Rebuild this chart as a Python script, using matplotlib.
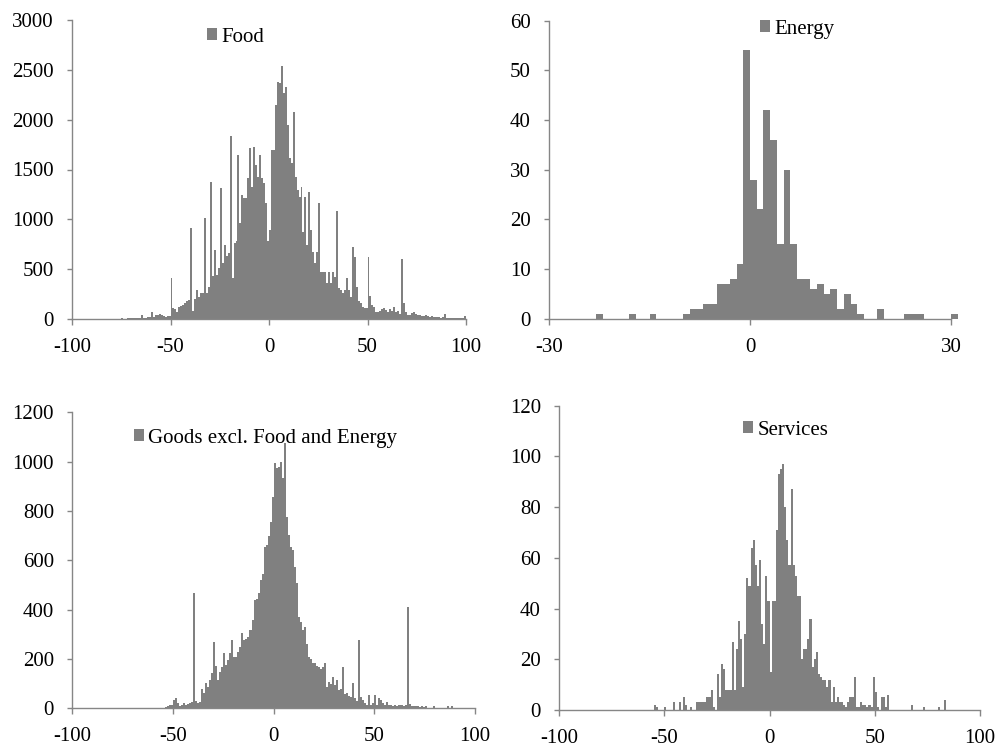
import matplotlib
matplotlib.use('Agg')
import matplotlib.pyplot as plt
from matplotlib.patches import Patch

plt.rcParams['font.family'] = ['Liberation Serif', 'DejaVu Serif']
plt.rcParams['axes.unicode_minus'] = False

# ---------------- data ----------------
food_bins = list(range(-100, 100))
food_counts = [
    0, 0, 0, 2, 0, 0, 0, 0, 3, 0,
    0, 2, 0, 0, 3, 0, 2, 0, 0, 3,
    2, 4, 3, 5, 3, 6, 4, 5, 8, 6,
    8, 10, 7, 12, 9, 45, 15, 12, 22, 18,
    75, 25, 45, 38, 55, 40, 30, 25, 35, 30,
    408, 107, 97, 74, 124, 130, 140, 164, 184, 190,
    916, 80, 197, 291, 217, 257, 264, 1010, 264, 324,
    1371, 435, 692, 441, 508, 1317, 558, 742, 632, 665,
    1839, 408, 766, 786, 1645, 959, 1244, 1210, 1210, 1411,
    1712, 1327, 1728, 1544, 1427, 1645, 1411, 1361, 1160, 782,
    893, 1695, 1695, 2146, 2380, 2363, 2537, 2263, 2330, 1945,
    1611, 1561, 2079, 1427, 1294, 1227, 1327, 876, 1227, 742,
    1277, 893, 675, 558, 675, 1160, 475, 475, 475, 364,
    475, 358, 475, 418, 1083, 308, 291, 257, 291, 408,
    291, 224, 725, 625, 324, 184, 157, 124, 107, 107,
    625, 231, 140, 124, 74, 74, 84, 97, 107, 90,
    75, 100, 85, 120, 70, 80, 55, 600, 160, 70,
    45, 40, 60, 70, 50, 45, 40, 35, 30, 40,
    30, 25, 30, 20, 25, 20, 20, 15, 20, 50,
    15, 15, 10, 15, 10, 15, 10, 10, 15, 30,
]

energy_bins = list(range(-30, 31))
energy_counts = [
    0, 0, 0, 0, 0, 0, 0, 1, 0, 0,
    0, 0, 1, 0, 0, 1, 0, 0, 0, 0,
    1, 2, 2, 3, 3, 7, 7, 8, 11, 54,
    28, 22, 42, 36, 15, 30, 15, 8, 8, 6,
    7, 5, 6, 2, 5, 3, 1, 0, 0, 2,
    0, 0, 0, 1, 1, 1, 0, 0, 0, 0,
    1,
]

goods_bins = list(range(-100, 100))
goods_counts = [
    0, 0, 0, 0, 0, 0, 0, 0, 0, 0,
    0, 0, 0, 0, 0, 0, 0, 0, 0, 0,
    0, 0, 0, 0, 0, 0, 0, 0, 3, 0,
    0, 0, 0, 0, 0, 0, 0, 0, 0, 0,
    0, 0, 0, 0, 0, 2, 4, 10, 14, 12,
    34, 43, 20, 9, 14, 20, 14, 18, 23, 27,
    466, 30, 23, 27, 77, 61, 101, 88, 115, 142,
    270, 172, 115, 149, 169, 223, 176, 196, 223, 277,
    209, 209, 230, 250, 304, 277, 280, 290, 317, 358,
    439, 443, 466, 520, 545, 652, 662, 700, 757, 858,
    993, 975, 980, 1000, 932, 1074, 777, 703, 655, 642,
    574, 507, 372, 351, 317, 331, 260, 209, 200, 185,
    182, 170, 169, 160, 169, 182, 88, 108, 100, 128,
    95, 115, 74, 80, 169, 60, 61, 50, 45, 101,
    40, 30, 277, 47, 34, 23, 14, 54, 13, 20,
    54, 14, 40, 34, 23, 14, 27, 14, 12, 10,
    14, 8, 12, 14, 10, 12, 412, 16, 9, 8,
    9, 10, 6, 8, 4, 9, 3, 2, 3, 9,
    2, 0, 1, 0, 0, 2, 9, 3, 8, 0,
    0, 0, 0, 0, 0, 0, 0, 0, 0, 0,
]

services_bins = list(range(-100, 100))
services_counts = [
    0, 0, 0, 0, 0, 0, 0, 0, 0, 0,
    0, 0, 0, 0, 0, 0, 0, 0, 0, 0,
    0, 0, 0, 0, 0, 0, 0, 0, 0, 0,
    0, 0, 0, 0, 0, 0, 0, 0, 0, 0,
    0, 0, 0, 0, 0, 2, 1, 0, 0, 0,
    1, 0, 0, 0, 3, 0, 0, 3, 0, 5,
    2, 0, 1, 0, 0, 3, 3, 3, 3, 3,
    5, 5, 8, 1, 0, 14, 5, 18, 16, 8,
    8, 8, 27, 8, 24, 35, 28, 9, 30, 52,
    49, 64, 67, 57, 49, 59, 34, 26, 53, 43,
    15, 43, 43, 71, 93, 95, 97, 80, 67, 57,
    87, 57, 53, 45, 45, 20, 24, 24, 28, 36,
    17, 20, 23, 14, 13, 12, 12, 9, 12, 3,
    9, 3, 5, 3, 3, 2, 1, 3, 5, 5,
    13, 1, 1, 3, 2, 2, 1, 2, 1, 13,
    7, 1, 0, 5, 5, 1, 6, 0, 0, 0,
    0, 0, 0, 0, 0, 0, 0, 2, 0, 0,
    0, 0, 0, 1, 0, 0, 0, 0, 0, 0,
    1, 0, 0, 4, 0, 0, 0, 0, 0, 0,
    0, 0, 0, 0, 0, 0, 0, 0, 0, 0,
]

labels = ["Food", "Energy", "Goods excl. Food and Energy", "Services"]

# ---------------- drawing ----------------
BAR = '#808080'
AXC = '#868686'
W, H = 1000, 749
FS = 15

fig = plt.figure(figsize=(W / 100, H / 100), dpi=100)


def rect_px(x0, x1, ytop, ybot):
    return [x0 / W, 1 - ybot / H, (x1 - x0) / W, (ybot - ytop) / H]


def panel(rect, bins, counts, xlim, xticks, ylim, yticks, label, leg_xy):
    ax = fig.add_axes(rect)
    ax.bar(bins, counts, width=1.0, align='edge', color=BAR,
           linewidth=0, clip_on=False)
    ax.set_xlim(xlim)
    ax.set_ylim(ylim)
    ax.set_xticks(xticks)
    ax.set_yticks(yticks)
    for s in ['top', 'right']:
        ax.spines[s].set_visible(False)
    for s in ['left', 'bottom']:
        ax.spines[s].set_color(AXC)
        ax.spines[s].set_linewidth(1.0)
    ax.tick_params(axis='both', direction='out', width=1,
                   color=AXC, labelsize=FS, labelcolor='black')
    ax.tick_params(axis='y', length=3.6, pad=9.5)
    ax.tick_params(axis='x', length=4.3, pad=9.5)
    ax.legend(handles=[Patch(facecolor=BAR, edgecolor='none', label=label)],
              loc='center left', bbox_to_anchor=leg_xy, frameon=False,
              fontsize=FS, handlelength=0.5, handleheight=0.5,
              handletextpad=0.2, borderpad=0, borderaxespad=0)
    return ax


panel(rect_px(72, 466, 20, 319), food_bins, food_counts,
      (-100, 100), [-100, -50, 0, 50, 100], (0, 3000),
      list(range(0, 3001, 500)), labels[0], (0.342, 0.943))

panel(rect_px(549, 951, 20.7, 318.5), energy_bins, energy_counts,
      (-30, 30), [-30, 0, 30], (0, 60),
      list(range(0, 61, 10)), labels[1], (0.525, 0.972))

panel(rect_px(72.3, 475, 412.3, 708.3), goods_bins, goods_counts,
      (-100, 100), [-100, -50, 0, 50, 100], (0, 1200),
      list(range(0, 1201, 200)), labels[2], (0.153, 0.913))

panel(rect_px(559, 980, 405.7, 710), services_bins, services_counts,
      (-100, 100), [-100, -50, 0, 50, 100], (0, 120),
      list(range(0, 121, 20)), labels[3], (0.437, 0.920))

fig.savefig('out.png', dpi=100)
